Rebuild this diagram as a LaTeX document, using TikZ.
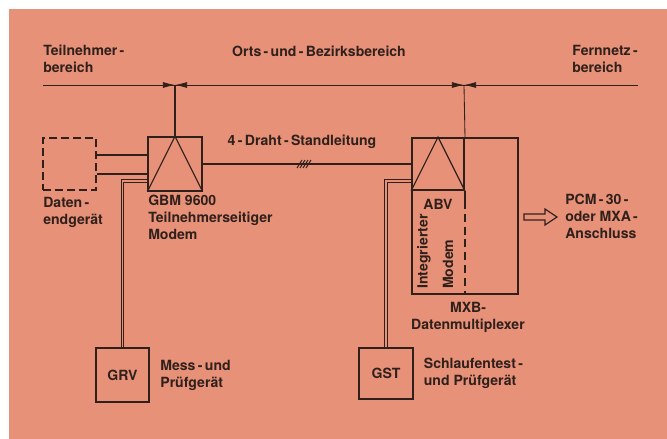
\documentclass[tikz,border=0pt]{standalone}
\usepackage{fontspec}
\setmainfont{TeX Gyre Heros}
\usepackage{tikz}
\usetikzlibrary{arrows.meta, positioning}

\definecolor{paper}{RGB}{231,145,120}
\definecolor{ink}{RGB}{48,32,28}

\begin{document}
\begin{tikzpicture}[x=0.025cm, y=-0.025cm,
        font=\fontsize{10}{12}\selectfont\bfseries, text=ink,
        box/.style={draw=ink, line width=1.4pt, inner sep=0pt, minimum width=1.33cm, minimum height=1.33cm},
        dbox/.style={box, line width=1.6pt, dash pattern=on 0.2cm off 0.1cm},
        conn/.style={draw=ink, line width=0.8pt},
        dline/.style={draw=ink, line width=0.7pt, double=paper, double distance=1.4pt},
        dimtip/.style={draw=ink, line width=0.5pt, -{Latex[length=0.3cm, width=0.15cm]}},
        lbl/.style={align=left, inner sep=0pt},
      ]
        \useasboundingbox (0,0) rectangle (667,439);
        \fill[white] (0,0) rectangle (667,439);
        \fill[paper] (9,9) rectangle (667,439);
        % bereiche
        \node[lbl, anchor=west] (tnb) at (43,59) {Teilnehmer\,-\\bereich};
        \node[lbl] (obb) at (319,51) {Orts\,-\,und\,-\,Bezirksbereich};
        \node[lbl, anchor=west] (fnb) at (572,59) {Fernnetz\,-\\bereich};
        \coordinate (lend) at (43,85);
        \coordinate (rend) at (638,85);
        \coordinate (m1) at (175,85);
        \coordinate (m2) at (464,85);
        \draw[ink, line width=0.6pt] (lend) -- (rend);
        \foreach \m in {m1, m2} {
          \draw[dimtip] ([xshift=-0.3cm]\m) -- (\m);
          \draw[dimtip] ([xshift=0.3cm]\m) -- (\m);
        }
        % geraete
        \node[dbox, minimum width=1.33cm, minimum height=1.3cm] (deg) at (69.5,164) {};
        \node[box] (gbm) at (175,164) {};
        \node[box, minimum width=2.65cm, minimum height=3.9cm] (mxb) at (465,216) {};
        \node[box, minimum width=1.3cm, minimum height=1.3cm] (abv) at (438,164) {};
        \node[box] (grv) at (122.5,375) {GRV};
        \node[box, minimum height=1.28cm] (gst) at (386,373.5) {GST};
        \draw[conn] (gbm.north) -- (m1);
        \draw[conn, line width=0.6pt] (abv.north east) -- (m2);
        \draw[conn] (gbm.south west) -- (gbm.north) -- (gbm.south east);
        \draw[conn] (abv.south west) -- (abv.north) -- (abv.south east);
        \draw[ink, line width=1.2pt] (abv.south east) -- ++(0,10) coordinate (dv);
        \draw[ink, line width=0.9pt, dash pattern=on 0.2cm off 0.12cm] (dv) -- (dv |- mxb.south);
        % leitungen
        \foreach \y in {155, 174} {
          \draw[conn] (deg.east |- 0,\y) -- (gbm.west |- 0,\y);
        }
        \draw[conn, line width=1pt] (gbm.east) -- (abv.west);
        \foreach \h in {0,...,3} {
          \draw[ink, line width=0.7pt] (297+3*\h,168) -- ++(5,-8);
        }
        \draw[dline] (gbm.west |- 0,181) -| (grv.north);
        \draw[dline] (abv.west |- 0,181) -| (gst.north);
        \coordinate (pcm) at (524,217);
        \draw[ink, line width=0.8pt] (pcm) ++(0,-3) -- ++(21,0) -- ++(0,-5) -- ++(12,8)
             -- ++(-12,8) -- ++(0,-5) -- ++(-21,0) -- cycle;
        % beschriftung
        \node[lbl] (dsl) at (302,142) {4\,-\,Draht\,-\,Standleitung};
        \node[lbl, anchor=north west] (degl) at (43,197) {Daten\,-\\endgerät};
        \node[lbl, anchor=north west] (gbml) at (148,195) {GBM 9600\\Teilnehmerseitiger\\Modem};
        \node[lbl] (abvl) at (438,204) {ABV};
        \node[lbl, rotate=90, anchor=west] (intl) at (424,289) {Integrierter};
        \node[lbl, rotate=90, anchor=west] (modl) at (448,289) {Modem};
        \node[lbl, align=center, anchor=north] (mxbl) at (468,302) {MXB-\\Datenmultiplexer};
        \node[lbl, anchor=west] (pcml) at (565,216) {PCM\,-\,30\,-\\oder MXA\,-\\Anschluss};
        \node[lbl, right=0.25cm of grv] (grvl) {Mess\,-\,und\\Prüfgerät};
        \node[lbl, right=0.25cm of gst] (gstl) {Schlaufentest\,-\\und Prüfgerät};
      \end{tikzpicture}
\end{document}
